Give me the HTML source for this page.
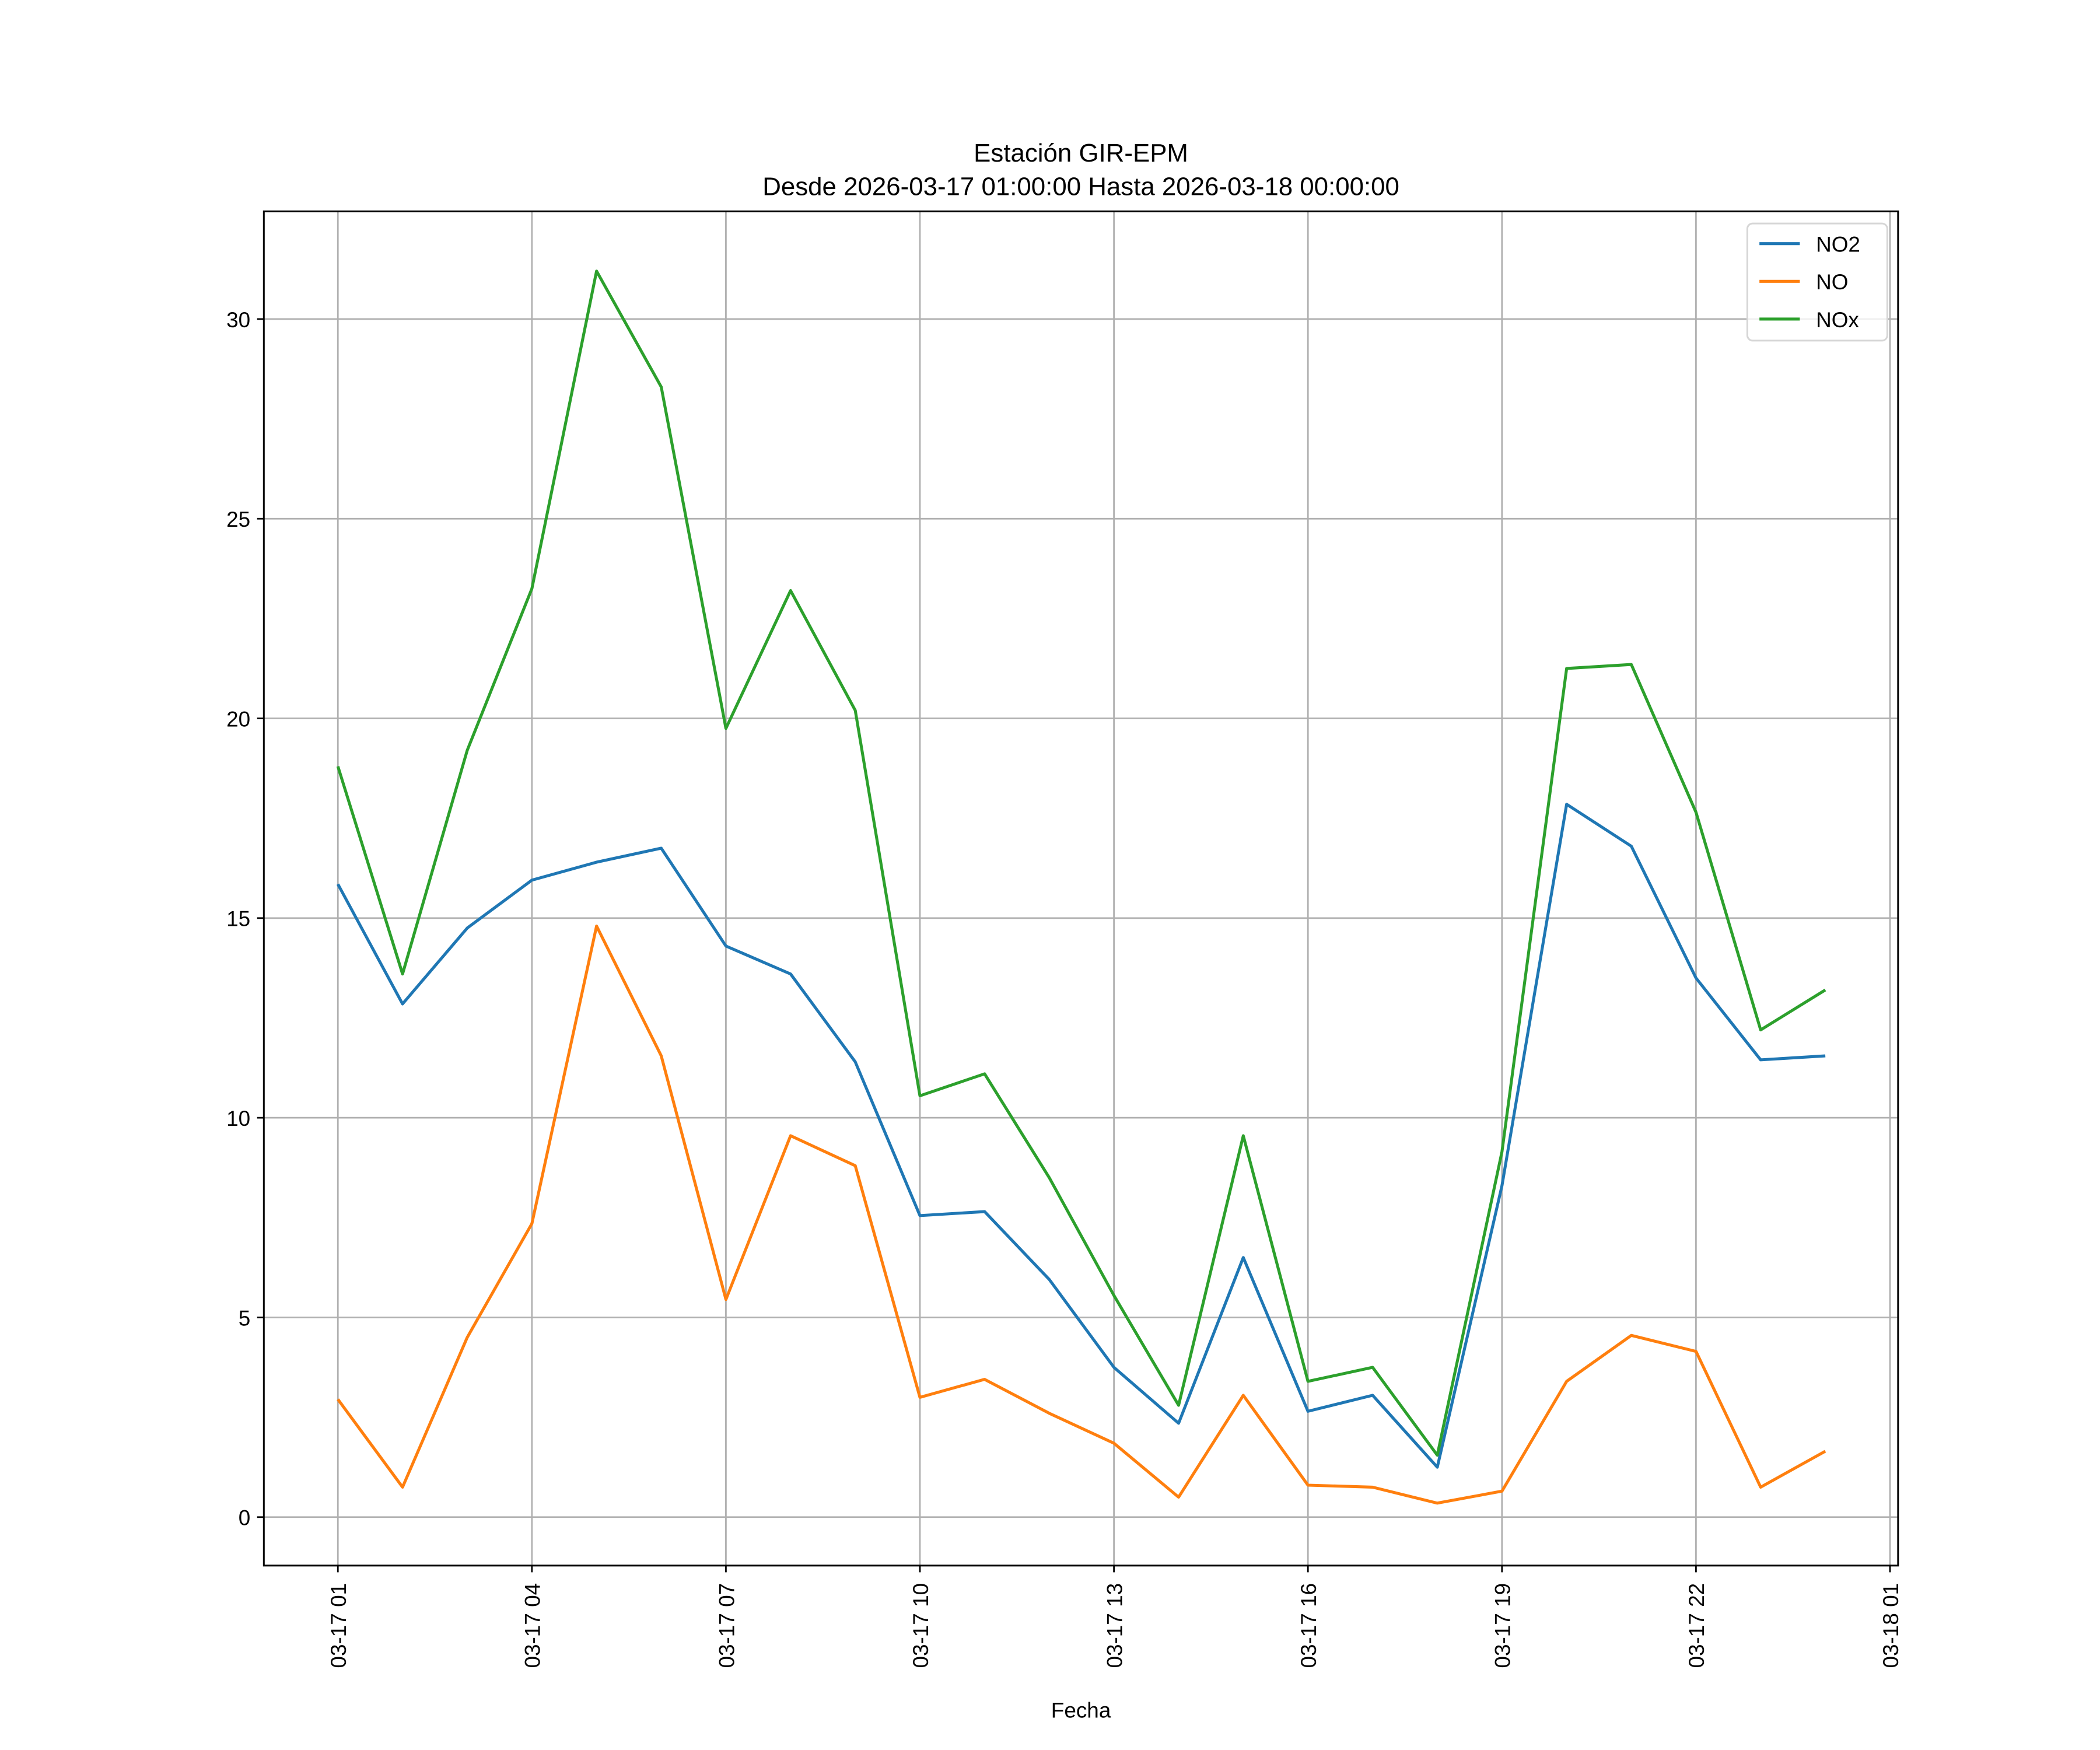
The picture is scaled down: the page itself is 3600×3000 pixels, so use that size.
<!DOCTYPE html>
<html><head><meta charset="utf-8"><style>
html,body{margin:0;padding:0;background:#fff}
svg{display:block}
text{font-family:"Liberation Sans","DejaVu Sans",sans-serif;fill:#000}
</style></head><body>
<svg id="chart" width="3600" height="3000" viewBox="0 0 1560 1300" xmlns="http://www.w3.org/2000/svg">
<rect width="1560" height="1300" fill="#fff"/>
<g id="grid"></g>
<g id="series"></g>
<rect x="196" y="157" width="1214" height="1006" fill="none" stroke="#000" stroke-width="1.3"/>
<g id="ticks"></g>
<text x="803" y="120" font-size="19" text-anchor="middle">Estación GIR-EPM</text>
<text x="803" y="145" font-size="19" text-anchor="middle">Desde 2026-03-17 01:00:00 Hasta 2026-03-18 00:00:00</text>
<text x="803" y="1276" font-size="16" text-anchor="middle">Fecha</text>
<g>
<rect x="1298" y="166" width="104" height="87" rx="4" fill="#fff" fill-opacity="0.8" stroke="#d6d6d6" stroke-width="1.3"/>
<g id="legend-items"></g>
</g>
</svg>
<script>
const hours=[1,2,3,4,5,6,7,8,9,10,11,12,13,14,15,16,17,18,19,20,21,22,23,24];
const no2=[15.85,12.85,14.75,15.95,16.4,16.75,14.3,13.6,11.4,7.55,7.65,5.95,3.75,2.35,6.5,2.65,3.05,1.25,8.3,17.85,16.8,13.5,11.45,11.55];
const no=[2.95,0.75,4.5,7.35,14.8,11.55,5.45,9.55,8.8,3.0,3.45,2.6,1.85,0.5,3.05,0.8,0.75,0.35,0.65,3.4,4.55,4.15,0.75,1.65];
const nox=[18.8,13.6,19.2,23.25,31.2,28.3,19.75,23.2,20.2,10.55,11.1,8.5,5.55,2.8,9.55,3.4,3.75,1.55,9.15,21.25,21.35,17.65,12.2,13.2];
const yTicks=[0,5,10,15,20,25,30];
const xTickHours=[1,4,7,10,13,16,19,22,25];
const xTickLabels=["03-17 01","03-17 04","03-17 07","03-17 10","03-17 13","03-17 16","03-17 19","03-17 22","03-18 01"];
const seriesNames=["NO2","NO","NOx"];
const seriesColors=["#1f77b4","#ff7f0e","#2ca02c"];

const NS="http://www.w3.org/2000/svg";
const X=h=>251+(h-1)*(1404-251)/24;
const Y=v=>1127-v*(1127-237)/30;
function mk(tag,attrs,parent){const e=document.createElementNS(NS,tag);for(const k in attrs)e.setAttribute(k,attrs[k]);parent.appendChild(e);return e;}
const grid=document.getElementById('grid'),ticks=document.getElementById('ticks'),ser=document.getElementById('series'),leg=document.getElementById('legend-items');

yTicks.forEach(v=>{
  const g=mk('line',{x1:196,x2:1410,y1:Y(v),y2:Y(v),stroke:'#b0b0b0','stroke-width':1.2},grid);
  
  
  const t=mk('line',{x1:191,x2:196,y1:Y(v),y2:Y(v),stroke:'#000','stroke-width':1.2},ticks);
  
  
  const l=mk('text',{x:186,y:Y(v)+6,'font-size':16,'text-anchor':'end'},ticks);
  l.textContent=v;
  
  
});
xTickHours.forEach((h,i)=>{
  const g=mk('line',{x1:X(h),x2:X(h),y1:157,y2:1163,stroke:'#b0b0b0','stroke-width':1.2},grid);
  
  
  const t=mk('line',{x1:X(h),x2:X(h),y1:1163,y2:1168,stroke:'#000','stroke-width':1.2},ticks);
  
  
  const l=mk('text',{x:X(h)+6,y:1176,'font-size':16,'text-anchor':'end',transform:`rotate(-90 ${X(h)+6} 1176)`},ticks);
  l.textContent=xTickLabels[i];
  
  
});
[no2,no,nox].forEach((d,i)=>{
  const p=mk('polyline',{points:d.map((v,j)=>X(hours[j])+','+Y(v)).join(' '),fill:'none',stroke:seriesColors[i],'stroke-width':2.2,'stroke-linejoin':'round'},ser);
  
  
  const ly=181+i*28;
  const ll=mk('line',{x1:1307,x2:1337,y1:ly,y2:ly,stroke:seriesColors[i],'stroke-width':2.2},leg);
  
  
  const lt=mk('text',{x:1349,y:ly+6,'font-size':16},leg);
  lt.textContent=seriesNames[i];
  
  
});
</script>
</body></html>
